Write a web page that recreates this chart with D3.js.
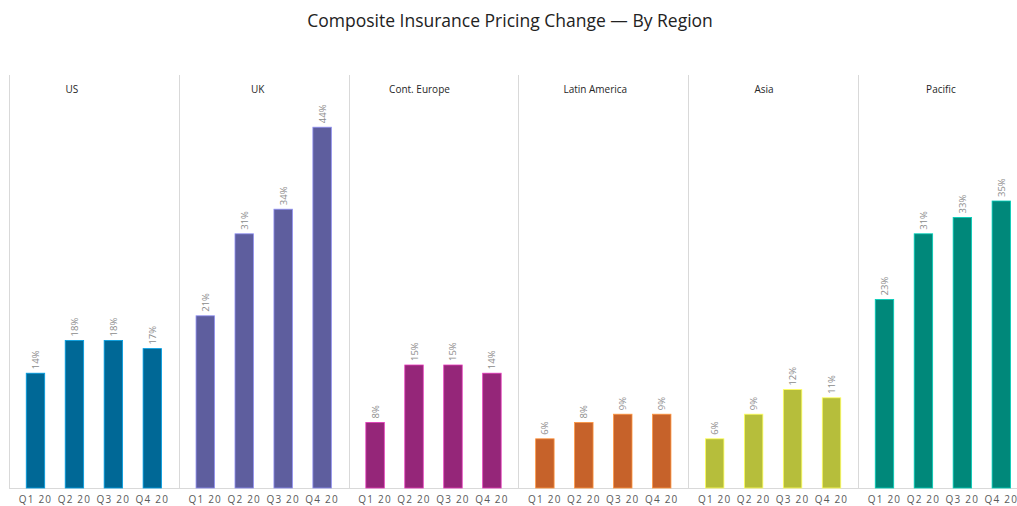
<!DOCTYPE html>
<html><head><meta charset="utf-8">
<script src="https://cdn.jsdelivr.net/npm/d3@7"></script>
<style>body{margin:0;background:#fff}svg{display:block}</style>
</head><body>
<svg id="c" width="1017" height="506"></svg>
<script>
const regions = ["US", "UK", "Cont. Europe", "Latin America", "Asia", "Pacific"];
const quarters = ["Q1 20", "Q2 20", "Q3 20", "Q4 20"];
const usVals = [14, 18, 18, 17];
const ukVals = [21, 31, 34, 44];
const euVals = [8, 15, 15, 14];
const laVals = [6, 8, 9, 9];
const asiaVals = [6, 9, 12, 11];
const pacVals = [23, 31, 33, 35];
const colors = ["#006896", "#5e5e9e", "#952679", "#c6622a", "#b6be3b", "#00887a"];
const seriesVals = [usVals, ukVals, euVals, laVals, asiaVals, pacVals];
const headerShift = [-22, -6, -14, -8, -9, -2];

(function () {
const svg = d3.select("#c");
const leftX = 9, panelW = 169.8, plotTop = 78, base = 488;
const y = d3.scaleLinear().domain([0, 50]).range([base, plotTop]);
const px = d3.scaleBand().domain(regions).range([leftX, leftX + panelW * regions.length]);

svg.append("text").attr("x", 510).attr("y", 27).attr("text-anchor", "middle")
  .attr("font-family", "Open Sans, sans-serif").attr("font-size", 17.5).attr("fill", "#222")
  .text("Composite Insurance Pricing Change \u2014 By Region");

svg.append("line").attr("x1", leftX).attr("x2", 1017).attr("y1", base + 0.5).attr("y2", base + 0.5)
  .attr("stroke", "#d9d9d9");

regions.forEach((r, i) => {
  const x0 = px(r);
  const g = svg.append("g");
  g.append("line").attr("x1", Math.round(x0) + 0.5).attr("x2", Math.round(x0) + 0.5)
    .attr("y1", 75).attr("y2", base).attr("stroke", "#d9d9d9");
  g.append("text").attr("x", x0 + panelW / 2 + headerShift[i]).attr("y", 93).attr("text-anchor", "middle")
    .attr("font-family", "Open Sans, sans-serif").attr("font-size", 10).attr("font-weight", 400)
    .attr("fill", "#262626").text(r);
  const x = d3.scaleBand().domain(quarters).range([x0 + 7, x0 + panelW - 7]).paddingInner(0.5).paddingOuter(0.25);
  const vals = seriesVals[i];
  const c = colors[i];
  g.selectAll("rect").data(vals).join("rect")
    .attr("x", (d, j) => x(quarters[j]) + 0.5)
    .attr("width", x.bandwidth() - 1)
    .attr("y", d => y(d))
    .attr("height", d => base - y(d))
    .attr("fill", c)
    .attr("stroke", d3.color(c).brighter(1.2))
    .attr("stroke-width", 0.8);
  g.selectAll("text.lbl").data(vals).join("text").attr("class", "lbl")
    .attr("transform", (d, j) => `translate(${x(quarters[j]) + x.bandwidth() / 2 + 3.5},${y(d) - 4}) rotate(-90)`)
    .attr("font-family", "Open Sans, sans-serif").attr("font-size", 9.5).attr("fill", "#8c8c8c")
    .text(d => d + "%");
  g.selectAll("text.ax").data(quarters).join("text").attr("class", "ax")
    .attr("x", d => x(d) + x.bandwidth() / 2).attr("y", 503).attr("text-anchor", "middle")
    .attr("font-family", "Open Sans, sans-serif").attr("font-size", 10).attr("fill", "#595959")
    .attr("letter-spacing", 1.2)
    .text(d => d);
});
})();
</script>
</body></html>
